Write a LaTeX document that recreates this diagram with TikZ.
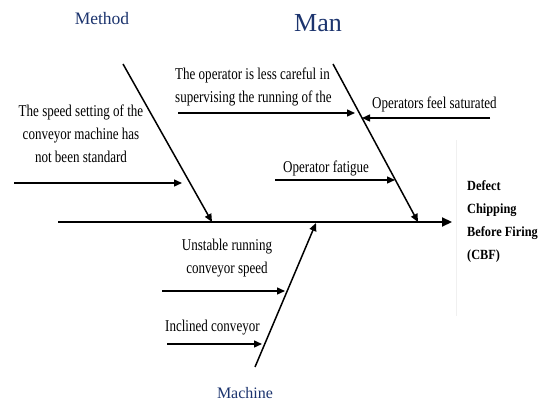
\documentclass[tikz,border=0pt]{standalone}
\usepackage{fontspec}
\setmainfont{Liberation Serif}
\newfontfamily\causefont[FakeStretch=0.79]{Liberation Serif}
\newfontfamily\effectfont[FakeStretch=0.88]{Liberation Serif}
\usetikzlibrary{arrows.meta}
\definecolor{titleblue}{RGB}{28,52,110}

\begin{document}
\begin{tikzpicture}[x=1pt,y=-1pt,
  spine/.style={line width=2.2pt,-{Triangle[length=10pt,width=9pt]}},
  bone/.style={line width=1.5pt,-{Triangle[length=8pt,width=7pt]}},
  cause/.style={line width=1.4pt,-{Triangle[length=8pt,width=7pt]}},
  causetext/.style={font=\causefont\fontsize{16.5}{23}\selectfont, inner sep=0pt, align=center},
  effecttext/.style={font=\effectfont\bfseries\fontsize{14}{23}\selectfont, inner sep=0pt, align=left},
  title/.style={text=titleblue, inner sep=0pt},
]
\useasboundingbox (0,0) rectangle (546,403);

% faint edge of the effect panel
\draw[gray!12, line width=0.6pt] (456,140) -- (456,316);

% backbone and category bones
\coordinate (spineL) at (58,222);
\coordinate (head) at (452,222);
\coordinate (methodTop) at (123,64);
\coordinate (methodFoot) at (212,222);
\coordinate (manTop) at (333,64);
\coordinate (manFoot) at (418,222);
\coordinate (machBot) at (255,367);
\coordinate (machFoot) at (316,223);

\draw[spine] (spineL) -- (head);
\draw[bone] (methodTop) -- (methodFoot);
\draw[bone] (manTop) -- (manFoot);
\draw[bone] (machBot) -- (machFoot);

% cause arrows
\coordinate (c1s) at (14,183);   \coordinate (c1e) at (182,183);
\coordinate (c2s) at (178,113);  \coordinate (c2e) at (355,113);
\coordinate (c3s) at (490,118);  \coordinate (c3e) at (362,118);
\coordinate (c4s) at (275,180);  \coordinate (c4e) at (395,180);
\coordinate (c5s) at (162,291);  \coordinate (c5e) at (285,291);
\coordinate (c6s) at (167,344);  \coordinate (c6e) at (262,344);

\draw[cause] (c1s) -- (c1e);
\draw[cause] (c2s) -- (c2e);
\draw[cause] (c3s) -- (c3e);
\draw[cause] (c4s) -- (c4e);
\draw[cause] (c5s) -- (c5e);
\draw[cause] (c6s) -- (c6e);

% cause texts (base anchor sits on the last line)
\node[causetext, anchor=base] (t1) at (81,163)
  {The speed setting of the\\conveyor machine has\\not been standard};
\node[causetext, anchor=base west, align=left] (t2) at (175,103)
  {The operator is less careful in\\supervising the running of the};
\node[causetext, anchor=base west] (t3) at (372,109) {Operators feel saturated};
\node[causetext, anchor=base west] (t4) at (283,173) {Operator fatigue};
\node[causetext, anchor=base] (t5) at (227,273) {Unstable running\\conveyor speed};
\node[causetext, anchor=base west] (t6) at (165,331) {Inclined conveyor};

% effect
\node[effecttext, anchor=base west] (effect) at (467,260)
  {Defect\\Chipping\\Before Firing\\(CBF)};

% category titles
\node[title, anchor=base, font=\fontsize{17.5}{20}\selectfont] (method) at (102,25) {Method};
\node[title, anchor=base, font=\fontsize{26}{30}\selectfont] (man) at (318,32) {Man};
\node[title, anchor=base, font=\fontsize{16}{20}\selectfont] (machine) at (245,398) {Machine};
\end{tikzpicture}
\end{document}
